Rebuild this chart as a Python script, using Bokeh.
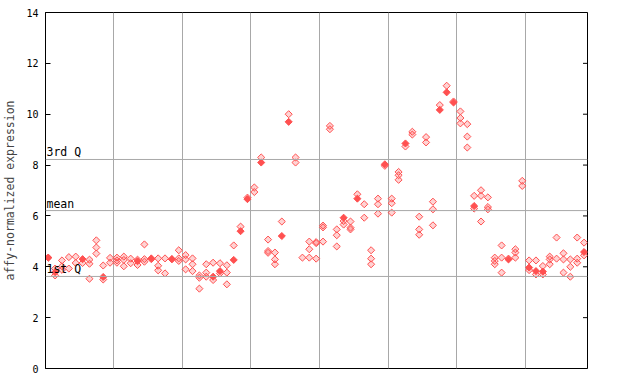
from bokeh.plotting import figure
from bokeh.models import Range1d, FixedTicker, Span, Label
from bokeh.embed import file_html
from bokeh.resources import INLINE
import math

# replicate values per sample (hollow diamonds), index = sample position
hollow_vals = [
    [4.36], [3.93, 3.66], [4.25, 4.02, 3.88], [4.38, 3.93], [4.4, 4.15],
    [4.15], [4.28, 4.12, 3.53], [5.04, 4.76, 4.52], [4.05, 3.5], [4.35, 4.16],
    [4.36, 4.25, 4.16], [4.4, 4.27, 4.02], [4.32, 4.14], [4.28, 4.07], [4.88, 4.3, 4.2],
    [4.3], [4.33, 4.04, 3.86], [4.33, 3.74], [4.3], [4.65, 4.33, 4.23],
    [4.46, 4.29, 3.9], [4.33, 4.1, 3.83], [3.66, 3.57, 3.14], [4.1, 3.77, 3.61], [4.16, 3.48],
    [4.14, 3.74], [4.06, 3.77, 3.31], [4.84], [5.58], [6.72],
    [7.12, 6.94], [8.3], [5.07, 4.62, 4.55], [4.56, 4.29, 4.1], [5.78],
    [10.0], [8.3, 8.1], [4.36], [4.99, 4.69, 4.36], [4.97, 4.93, 4.32],
    [5.62, 5.55, 4.99], [9.54, 9.41], [5.47, 5.24, 4.8], [5.8, 5.66], [5.78, 5.54, 5.47],
    [6.85], [6.46, 5.93], [4.65, 4.32, 4.1], [6.68, 6.46, 6.09], [7.97],
    [6.68, 6.5, 6.13], [7.73, 7.6, 7.42], [8.73], [9.31, 9.2], [5.97, 5.47, 5.26],
    [9.1, 8.89], [6.56, 6.26, 5.63], [10.36], [11.12], [10.5],
    [10.11, 9.85, 9.64], [9.61, 9.12, 8.69], [6.79, 6.29], [7.01, 6.79, 5.78], [6.73, 6.35, 6.26],
    [4.36, 4.23, 4.1], [4.84, 4.36, 3.77], [4.32], [4.69, 4.56, 4.36], [7.38, 7.18],
    [4.25, 3.87], [4.25, 3.7], [4.03, 3.7], [4.4, 4.29, 4.1], [5.15, 4.32],
    [4.53, 4.29, 3.77], [4.29, 4.0, 3.61], [5.15, 4.32, 4.16], [4.95, 4.45],
]

# overlapping (solid-looking) points
solid_idx = [0, 1, 5, 8, 13, 15, 18, 24, 25, 27, 28, 29, 31, 34, 35, 43, 45, 49,
             52, 57, 58, 59, 62, 67, 70, 71, 72, 78]
solid_val = [4.36, 3.79, 4.3, 3.6, 4.22, 4.33, 4.3, 3.61, 3.83, 4.27, 5.4, 6.66, 8.1,
             5.21, 9.7, 5.93, 6.68, 8.03, 8.85, 10.17, 10.86, 10.46, 6.39, 4.29,
             3.97, 3.83, 3.81, 4.58]

group_bounds = [9.5, 19.5, 29.5, 39.5, 49.5, 59.5, 69.5]
y_ticks = [0, 2, 4, 6, 8, 10, 12, 14]
q_lines = [3.62, 6.21, 8.22]
q_labels = ["1st Q", "mean", "3rd Q"]

X_START, X_END = -0.4, 78.5
RED = "#ff5050"
MONO = "DejaVu Sans Mono"

hx, hy = [], []
for i, vals in enumerate(hollow_vals):
    for v in vals:
        hx.append(i)
        hy.append(v)

p = figure(width=608, height=376, output_backend="svg", toolbar_location=None,
           x_range=Range1d(X_START, X_END), y_range=Range1d(0, 14),
           min_border_left=44, min_border_top=12, min_border_right=21, min_border_bottom=8)

p.xaxis.visible = False
p.xgrid.ticker = FixedTicker(ticks=group_bounds)
p.xgrid.grid_line_color = "#a8a8a8"
p.xgrid.grid_line_width = 1
p.ygrid.visible = False

ya = p.yaxis[0]
ya.ticker = FixedTicker(ticks=y_ticks)
ya.major_tick_in = 5
ya.major_tick_out = 0
ya.minor_tick_line_color = None
ya.major_label_text_font = MONO
ya.major_label_text_font_size = "10px"
ya.major_label_text_color = "black"
ya.major_label_standoff = 7
ya.axis_line_color = "black"
ya.major_tick_line_color = "black"
ya.axis_label = "affy-normalized expression"
ya.axis_label_text_font = MONO
ya.axis_label_text_font_size = "11.5px"
ya.axis_label_text_font_style = "normal"
ya.axis_label_standoff = 6

p.outline_line_color = "black"
p.outline_line_width = 1

# inward ticks on the right border
p.scatter([X_END] * len(y_ticks), y_ticks, marker="dash", size=9,
          line_color="black", line_width=1)

for v, t in zip(q_lines, q_labels):
    p.add_layout(Span(location=v, dimension="width", line_color="#a8a8a8", line_width=1))
    p.add_layout(Label(x=X_START, y=v, text=t, text_font=MONO, text_font_size="11.5px",
                       text_baseline="bottom", text_color="black", x_offset=1, y_offset=0))

p.scatter(hx, hy, marker="square", angle=math.pi / 4, size=5,
          line_color=RED, line_width=1, fill_color=RED, fill_alpha=0.25)
p.scatter(solid_idx, solid_val, marker="square", angle=math.pi / 4, size=5,
          line_color=RED, line_width=1, fill_color=RED, fill_alpha=1.0)

open("out.html", "w").write(file_html(p, INLINE))
